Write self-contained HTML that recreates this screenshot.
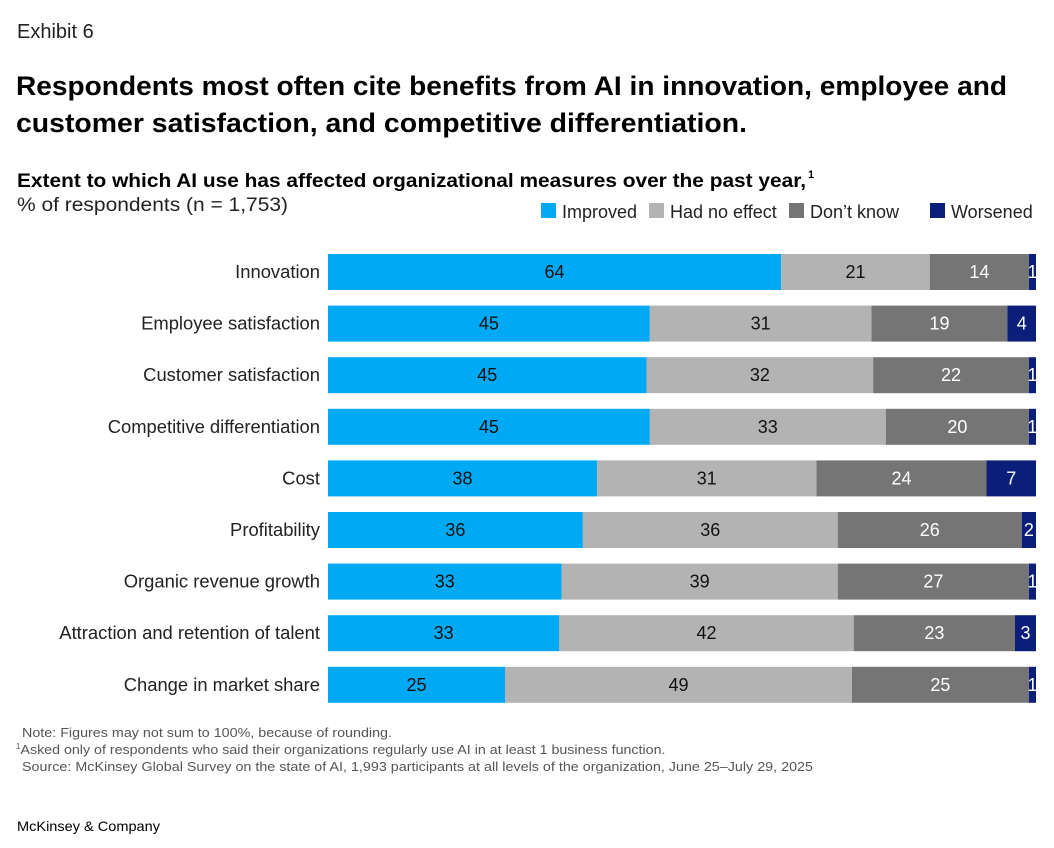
<!DOCTYPE html>
<html><head><meta charset="utf-8"><style>
html,body{margin:0;padding:0;background:#fff;}
svg{display:block;font-family:"Liberation Sans",sans-serif;}
</style></head><body>
<svg id="chart" width="1054" height="848" viewBox="0 0 1054 848" xmlns="http://www.w3.org/2000/svg">
<text x="17" y="38" font-size="20" fill="#222">Exhibit 6</text>
<text x="16" y="95" font-size="27" font-weight="bold" fill="#000" textLength="991" lengthAdjust="spacingAndGlyphs">Respondents most often cite benefits from AI in innovation, employee and</text>
<text x="16" y="132" font-size="27" font-weight="bold" fill="#000" textLength="731" lengthAdjust="spacingAndGlyphs">customer satisfaction, and competitive differentiation.</text>
<text x="17" y="187" font-size="19" font-weight="bold" fill="#000" textLength="789" lengthAdjust="spacingAndGlyphs">Extent to which AI use has affected organizational measures over the past year,</text>
<text x="808" y="178" font-size="11" font-weight="bold">1</text>
<text x="17" y="211" font-size="19" fill="#222" textLength="271" lengthAdjust="spacingAndGlyphs">% of respondents (n = 1,753)</text>
<g id="legend"></g>
<g id="bars"></g>
<text x="22" y="737" font-size="13" fill="#555" textLength="370" lengthAdjust="spacingAndGlyphs">Note: Figures may not sum to 100%, because of rounding.</text>
<text x="16" y="754" font-size="13" fill="#555"><tspan font-size="8" dy="-5">1</tspan><tspan dy="5" textLength="645" lengthAdjust="spacingAndGlyphs">Asked only of respondents who said their organizations regularly use AI in at least 1 business function.</tspan></text>
<text x="22" y="771" font-size="13" fill="#555" textLength="791" lengthAdjust="spacingAndGlyphs">Source: McKinsey Global Survey on the state of AI, 1,993 participants at all levels of the organization, June 25–July 29, 2025</text>
<text x="17" y="831" font-size="14" fill="#000" textLength="143" lengthAdjust="spacingAndGlyphs">McKinsey &amp; Company</text>
</svg>
<script>
const categories=["Innovation","Employee satisfaction","Customer satisfaction","Competitive differentiation","Cost","Profitability","Organic revenue growth","Attraction and retention of talent","Change in market share"];
const improved=[64,45,45,45,38,36,33,33,25];
const noEffect=[21,31,32,33,31,36,39,42,49];
const dontKnow=[14,19,22,20,24,26,27,23,25];
const worsened=[1,4,1,1,7,2,1,3,1];
const seriesNames=["Improved","Had no effect","Don’t know","Worsened"];
const NS="http://www.w3.org/2000/svg";
const colors=["#00a9f4","#b3b3b3","#757575","#0b1f7a"];
const textColors=["#111","#111","#fff","#fff"];
const series=[improved,noEffect,dontKnow,worsened];
const x0=328,x1=1036,rowTop=254,rowStep=51.6,barH=36;
function xScale(v,total){return (v/total)*(x1-x0);}
function yScale(i){return rowTop+i*rowStep;}
function el(tag,attrs,parent){const e=document.createElementNS(NS,tag);for(const k in attrs)e.setAttribute(k,attrs[k]);parent.appendChild(e);return e;}
const legend=document.getElementById('legend');
const lx=[541,649,789,930];
seriesNames.forEach((n,i)=>{
  const r=el('rect',{x:lx[i],y:203,width:15,height:15,fill:colors[i]},legend);
  
  
  const t=el('text',{x:lx[i]+21,y:218,'font-size':18,fill:'#222'},legend);
  t.textContent=n;
  
  
});
const bars=document.getElementById('bars');
categories.forEach((c,i)=>{
  const y=yScale(i);
  const lab=el('text',{x:320,y:y+barH/2+6,'font-size':18.4,'text-anchor':'end',fill:'#222'},bars);
  lab.textContent=c;
  
  
  const total=series.reduce((s,a)=>s+a[i],0);
  let x=x0;
  series.forEach((arr,k)=>{
    const w=xScale(arr[i],total);
    const r=el('rect',{x:x,y:y,width:w,height:barH,fill:colors[k]},bars);
    
    
    const t=el('text',{x:x+w/2,y:y+barH/2+6,'font-size':18,'text-anchor':'middle',fill:textColors[k]},bars);
    t.textContent=arr[i];
    
    
    x+=w;
  });
});
</script>
</body></html>
